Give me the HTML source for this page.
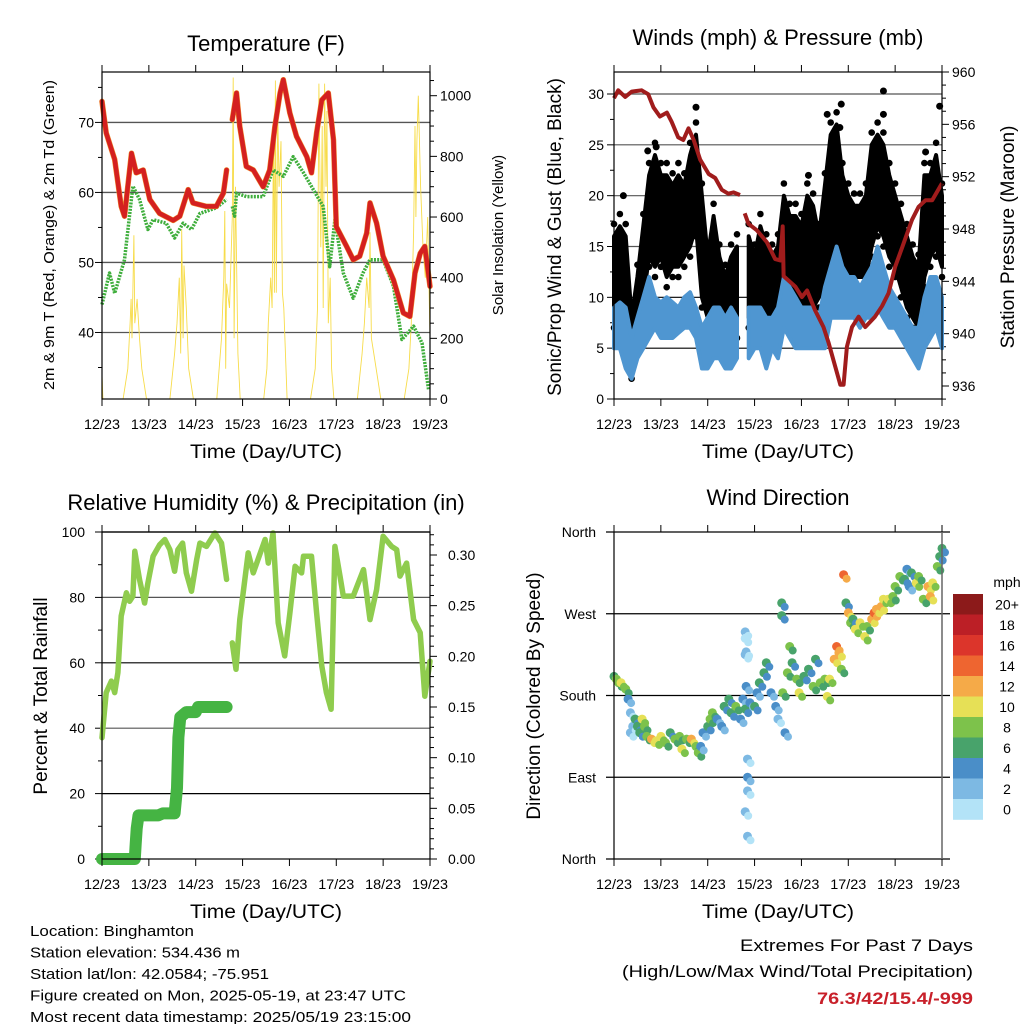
<!DOCTYPE html>
<html><head><meta charset="utf-8"><style>
html,body{margin:0;padding:0;background:#fff;}
svg{display:block;font-family:"Liberation Sans",sans-serif;}
</style></head><body>
<svg id="s" width="1024" height="1024" viewBox="0 0 1024 1024" xmlns="http://www.w3.org/2000/svg"></svg>
<script>
// ---------- DATA ----------
const dayLabels = ["12/23","13/23","14/23","15/23","16/23","17/23","18/23","19/23"];
const tempT = [[0,73],[0.09,68.5],[0.27,64.7],[0.41,58],[0.48,56.6],[0.63,65.6],[0.73,62.8],[0.88,63.2],[1.02,59],[1.23,57],[1.52,56],[1.66,56.6],[1.84,60.4],[1.94,58.5],[2.23,58],[2.44,58],[2.59,59.9],[2.66,63.2],null,[2.78,70.4],[2.87,74.2],[2.94,69.4],[3.08,63.7],[3.23,63.2],[3.44,60.8],[3.58,63.2],[3.69,69.4],[3.8,74.2],[3.87,76.1],[4.01,71.3],[4.15,68],[4.37,65.1],[4.47,62.8],[4.58,68.5],[4.69,73.2],[4.83,74.2],[4.94,67.5],[5.0,55.1],[5.22,52.3],[5.36,50.4],[5.5,50.9],[5.65,54.2],[5.72,58.5],[5.86,55.6],[6.0,50.9],[6.22,47.5],[6.43,42.8],[6.57,42.3],[6.68,48.5],[6.79,51.3],[6.89,52.3],[7.0,46.6]];
const dewT = [[0,44],[0.16,48.5],[0.27,45.6],[0.48,50.4],[0.66,60.9],[0.8,59],[0.98,54.7],[1.09,56.1],[1.37,55.6],[1.55,53.5],[1.73,55.6],[1.91,54.7],[2.09,57],[2.44,57.8],[2.66,59],null,[2.78,58],[2.83,56.6],[2.87,59.9],[3.08,59.4],[3.44,59.4],[3.65,63.2],[3.87,62.3],[4.08,65.1],[4.3,62.8],[4.51,60.4],[4.72,58],[4.86,49.4],[4.97,56.1],[5.15,48.5],[5.36,44.9],[5.57,48.5],[5.72,50.4],[6.0,50.4],[6.22,46.6],[6.4,39],[6.65,40.9],[6.83,38.5],[6.97,31.8]];
const solar = [[0,80],[0.02,0],[0.45,0],[0.55,100],[0.6,250],[0.62,330],[0.64,200],[0.68,540],[0.7,250],[0.72,280],[0.75,330],[0.8,200],[0.85,100],[0.95,0],[1.45,0],[1.55,150],[1.6,250],[1.65,400],[1.68,150],[1.7,560],[1.73,200],[1.75,440],[1.8,300],[1.85,100],[1.95,0],[2.45,0],[2.55,200],[2.6,400],[2.62,620],[2.64,100],[2.66,380],[2.72,300],[2.78,600],[2.8,1060],[2.82,200],[2.85,700],[2.88,380],[2.9,150],[2.95,0],[3.45,0],[3.52,100],[3.55,250],[3.6,400],[3.63,300],[3.66,900],[3.68,350],[3.7,1050],[3.72,350],[3.75,950],[3.78,700],[3.82,850],[3.85,350],[3.88,300],[3.95,0],[4.45,0],[4.55,100],[4.6,300],[4.63,1040],[4.67,500],[4.7,900],[4.72,300],[4.75,1040],[4.78,700],[4.8,950],[4.83,250],[4.87,400],[4.9,100],[4.95,0],[5.45,0],[5.55,150],[5.6,250],[5.65,400],[5.7,300],[5.72,550],[5.75,200],[5.8,150],[5.9,50],[5.95,0],[6.45,0],[6.55,100],[6.6,250],[6.65,550],[6.68,900],[6.7,600],[6.72,850],[6.75,1000],[6.8,700],[6.85,500],[6.9,400],[6.95,600],[7,200]];
const windTimes = [0,0.125,0.25,0.375,0.5,0.625,0.75,0.875,1,1.125,1.25,1.375,1.5,1.625,1.75,1.875,2,2.125,2.25,2.375,2.5,2.625,2.75,2.875,3,3.125,3.25,3.375,3.5,3.625,3.75,3.875,4,4.125,4.25,4.375,4.5,4.625,4.75,4.875,5,5.125,5.25,5.375,5.5,5.625,5.75,5.875,6,6.125,6.25,6.375,6.5,6.625,6.75,6.875,7];
const windLow  = [5,5,3,2,4,5,6,7,6,6,6,6.5,7,7,6,3,3,4,4,3,3,4,1,4,5,5,3,5,4,7,6,5,5,5,5,5,5,8,8,8,8,8,7,8,8,9,8,7,7,6,5,4,3,5,6,7,5];
const windHigh = [9,9.5,9,6,8,10,12,10,9.5,10,9.5,9,10,10.5,9,7,8,9,9,8,9,8,7,9,9,9,8,8,9,12,11,10,9,9,9,8,11,13,15,13,12,12,11,12,13,15,13,11,10,9,8,7,7,10,12,12,10];
const gustLow  = [8,10,5,3,6,10,14,13,14,12,13,13,14,15,17,10,8,8,7,5,5,7,8,8,7,8,7,8,6,10,10,10,9,9,9,10,11,14,15,13,12,12,12,12,15,17,16,14,13,11,9,8,7,12,14,15,13];
const gustHigh = [16,17,16,8,12,17,22,24,22,22,21,22,21,24,26,20,14,18,14,12,14,15,12,16,14,17,15,14,15,20,18,18,17,20,19,16,21,26,27,22,20,19,19,20,25,26,25,22,20,18,16,14,13,22,22,24,20];
const gustOutliers = [[0.2,20],[0.72,24.4],[0.9,24.8],[1.75,28.7],[4.55,28],[4.85,29],[4.82,26.7],[5.75,30.3],[5.75,28],[6.95,28.8],[4.15,22],[6.65,24.3]];
const pressure = [[0,958],[0.09,958.6],[0.24,958.1],[0.38,958.5],[0.59,958.6],[0.73,958.3],[0.84,957.3],[0.98,956.6],[1.13,956.9],[1.23,956.2],[1.37,955],[1.48,954.8],[1.59,955.7],[1.7,954.8],[1.84,953.3],[2.02,952.2],[2.16,951.9],[2.3,951],[2.44,950.7],[2.55,950.8],[2.69,950.6],null,[2.79,949.2],[2.87,948.4],[3.05,947.9],[3.26,947],[3.44,945.7],[3.55,945.6],[3.6,948.2],[3.62,944.4],[3.87,943.6],[4.01,942.8],[4.12,943.3],[4.29,941.8],[4.47,940.5],[4.58,939.3],[4.72,937.5],[4.83,936.1],[4.9,936.1],[4.97,939],[5.08,940.5],[5.22,941.3],[5.36,940.5],[5.57,941.3],[5.72,942.1],[5.86,943.1],[6,945.1],[6.15,946.6],[6.36,948.7],[6.5,949.7],[6.65,950.2],[6.79,950.2],[7,951.5]];
const rh = [[0,37.1],[0.09,50.9],[0.2,54.4],[0.27,50.9],[0.34,57],[0.41,74.3],[0.52,81.4],[0.59,78.8],[0.66,80.4],[0.7,94.1],[0.8,85.5],[0.91,78.3],[0.98,84.4],[1.09,92.6],[1.23,96.1],[1.34,97.7],[1.45,94.6],[1.55,88],[1.62,94.6],[1.72,96.6],[1.8,87.5],[1.91,81.9],[2.02,91.6],[2.09,96.6],[2.23,95.6],[2.41,99.7],[2.55,96.6],[2.66,85.5],null,[2.78,66.1],[2.86,58],[2.94,73.2],[3.12,93.6],[3.23,87.5],[3.33,91.6],[3.48,97.7],[3.55,90.5],[3.65,99.7],[3.76,72.2],[3.9,62.1],[4.01,75.3],[4.12,89.5],[4.26,87.5],[4.3,92.6],[4.47,92.6],[4.58,75.3],[4.69,59],[4.79,50.9],[4.89,45.8],[4.97,95.6],[5.08,86.5],[5.15,80.4],[5.36,80.4],[5.58,88.5],[5.72,73.2],[5.86,82.4],[6,98.7],[6.18,95.6],[6.29,94.6],[6.36,86.5],[6.5,90.5],[6.65,73.2],[6.79,69.2],[6.89,49.8],[7,60.5]];
const precip = [[0,0],[0.7,0],[0.72,0.015],[0.74,0.03],[0.78,0.043],[1.2,0.043],[1.3,0.045],[1.55,0.045],[1.6,0.07],[1.63,0.12],[1.67,0.14],[1.8,0.145],[2.0,0.145],[2.05,0.15],[2.66,0.15]];
const dirData = [[0,201,7],[0.05,198,8],[0.1,194,9],[0.15,194,10],[0.25,187,8],[0.3,176,4],[0.35,139,2],[0.35,161,3],[0.4,146,3],[0.45,154,6],[0.5,146,7],[0.55,139,6],[0.6,154,10],[0.65,146,8],[0.7,135,8],[0.8,132,12],[0.9,130,10],[1,135,11],[1.1,128,8],[1.2,139,7],[1.3,132,9],[1.4,135,8],[1.45,121,10],[1.55,132,8],[1.65,132,12],[1.75,124,9],[1.8,117,8],[1.85,124,4],[1.9,139,5],[2,146,7],[2.05,154,8],[2.1,161,8],[2.2,154,4],[2.3,146,4],[2.35,168,6],[2.45,176,7],[2.5,161,7],[2.6,168,8],[2.7,154,4],[2.75,176,5],[2.8,165,6],[2.9,172,5],[3,168,7],[3.05,183,4],[3.1,194,6],[3.2,205,7],[3.25,216,6],[3.35,183,4],[3.45,168,4],[3.5,154,3],[3.6,183,9],[3.65,139,5],[3.7,205,8],[3.75,234,8],[3.8,216,6],[3.9,198,8],[3.95,183,10],[4.05,201,7],[4.15,209,7],[4.25,190,9],[4.3,220,7],[4.4,194,8],[4.5,198,8],[4.55,179,10],[4.6,198,11],[4.7,220,12],[4.75,234,14],[4.8,227,12],[4.85,209,8],[4.95,282,6],[5,271,12],[5.05,260,8],[5.1,264,7],[5.15,253,10],[5.25,260,10],[5.35,245,10],[5.4,256,8],[5.5,264,12],[5.55,271,14],[5.6,275,12],[5.7,278,12],[5.75,286,10],[5.85,286,10],[5.95,289,9],[6,300,8],[6.1,311,8],[6.2,308,6],[6.25,319,4],[6.3,300,5],[6.35,315,6],[6.45,304,10],[6.5,311,8],[6.6,286,8],[6.7,300,12],[6.75,289,12],[6.8,304,10],[6.9,322,8],[6.95,333,6],[7,342,6],[2.8,250,2],[2.8,225,2],[2.82,190,4],[2.85,110,3],[2.85,75,2],[2.8,52,2],[2.85,25,2],[2.85,90,4],[2.82,228,3],[2.8,243,1],[4.9,313,14],[3.58,268,6],[3.58,282,6]];
const speedColors = ["#b3e3f7","#7db9e3","#4a8ec8","#48a36b","#7dc24b","#e6e056","#f5aa48","#ee6530","#dc352b","#bc1f26","#8c1a1a"];
const speedLabels = ["0","2","4","6","8","10","12","14","16","18","20+"];

// ---------- HELPERS ----------
const NS="http://www.w3.org/2000/svg";
const svg=document.getElementById('s');
function el(tag,attrs,parent){const e=document.createElementNS(NS,tag);for(const k in attrs)e.setAttribute(k,attrs[k]);(parent||svg).appendChild(e);return e;}
function txt(x,y,s,size,anchor,extra){const t=el('text',Object.assign({x:x,y:y,'font-size':size,'text-anchor':anchor||'middle',fill:'#000'},extra||{}));t.textContent=s;return t;}
function xScale(x0,x1){return d=>x0+(x1-x0)*d/7;}
function yScale(y0,y1,v0,v1){return v=>y0+(y1-y0)*(v-v0)/(v1-v0);}
function pathFrom(arr,xs,ys){let d='',pen=false;for(const p of arr){if(p===null){pen=false;continue;}d+=(pen?'L':'M')+xs(p[0]).toFixed(1)+' '+ys(p[1]).toFixed(1);pen=true;}return d;}
function timeAxis(g,L,R,T,B,name){
  const xs=xScale(L,R);
  for(let i=0;i<8;i++){const x=xs(i);
    el('line',{x1:x,y1:B,x2:x,y2:B+7,stroke:'#000','stroke-width':1},g);
    el('line',{x1:x,y1:T,x2:x,y2:T-7,stroke:'#000','stroke-width':1},g);
    const t=txt(x,B+30,dayLabels[i],14,'middle',{textLength:36,lengthAdjust:'spacingAndGlyphs'});g.appendChild(t);
    
  }
  const at=txt((L+R)/2,B+59,'Time (Day/UTC)',19,'middle',{textLength:152,lengthAdjust:'spacingAndGlyphs'});g.appendChild(at);
  
}
function frame(g,L,R,T,B){el('rect',{x:L,y:T,width:R-L,height:B-T,fill:'none',stroke:'#000','stroke-width':1.2},g);}

// ================= PANEL 1: TEMPERATURE =================
(function(){
 const L=102,R=430,T=72,B=399;
 const g=el('g',{});
 
 
 const xs=xScale(L,R), ys=yScale(B,T,30.5,77.2), ysol=yScale(B,95.7,0,1000);
 [40,50,60,70].forEach(v=>{el('line',{x1:L,x2:R,y1:ys(v),y2:ys(v),stroke:'#555','stroke-width':1.3},g);});
 for(let v=35;v<=75;v+=5){const major=v%10==0;el('line',{x1:L,x2:L-(major?7:4),y1:ys(v),y2:ys(v),stroke:'#000'},g);
   if(major){const t=txt(L-8,ys(v)+5,String(v),14,'end');g.appendChild(t);}}
 for(let v=0;v<=1050;v+=50){const major=v%200==0;el('line',{x1:R,x2:R+(major?7:4),y1:ysol(v),y2:ysol(v),stroke:'#000'},g);
   if(major){const t=txt(R+10,ysol(v)+5,String(v),14,'start');g.appendChild(t);}}
 const sp=el('path',{d:pathFrom(solar,xs,ysol),fill:'none',stroke:'#f7dc4a','stroke-width':0.9},g);
 
 const dp=el('path',{d:pathFrom(dewT,xs,ys),fill:'none',stroke:'#3fae3c','stroke-width':3.5,'stroke-dasharray':'2 1.2','stroke-linejoin':'round'},g);
 
 const op=el('path',{d:pathFrom(tempT,xs,ys),fill:'none',stroke:'#f08a2a','stroke-width':5.5,'stroke-linejoin':'round','stroke-linecap':'round'},g);
 
 const rp=el('path',{d:pathFrom(tempT,xs,ys),fill:'none',stroke:'#d42020','stroke-width':4.5,'stroke-linejoin':'round','stroke-linecap':'round'},g);
 
 frame(g,L,R,T,B);
 timeAxis(g,L,R,T,B,'temperature');
 const ti=txt(266,51,'Temperature (F)',22);g.appendChild(ti);
 const yl=txt(0,0,'2m & 9m T (Red, Orange) & 2m Td (Green)',15,'middle',{transform:'translate(54,235) rotate(-90)',textLength:310,lengthAdjust:'spacingAndGlyphs'});g.appendChild(yl);
 
 const yr=txt(0,0,'Solar Insolation (Yellow)',15,'middle',{transform:'translate(503,235) rotate(-90)'});g.appendChild(yr);
 
})();

// ================= PANEL 2: WINDS & PRESSURE =================
(function(){
 const L=614,R=942,T=72,B=399;
 const g=el('g',{});
 
 
 const xs=xScale(L,R), ys=yScale(B,94,0,30), yp=yScale(72,386,960,936);
 [5,10,15,20,25,30].forEach(v=>{el('line',{x1:L,x2:R,y1:ys(v),y2:ys(v),stroke:v<=10?'#000':'#555','stroke-width':1.2},g);});
 for(let v=0;v<=32;v+=2.5){const major=v%5==0;el('line',{x1:L,x2:L-(major?7:4),y1:ys(v),y2:ys(v),stroke:'#000'},g);
   if(major){const t=txt(L-10,ys(v)+5,String(v),14,'end');g.appendChild(t);}}
 for(let v=935;v<=960;v+=1){const major=v%4==0;el('line',{x1:R,x2:R+(major?7:4),y1:yp(v),y2:yp(v),stroke:'#000'},g);
   if(major){const t=txt(R+10,yp(v)+5,String(v),14,'start');g.appendChild(t);}}
 function band(lo,hi,color,name,dots){
   let segs=[],cur=[];
   windTimes.forEach((t,i)=>{ if(Math.abs(t-2.75)<1e-6){if(cur.length)segs.push(cur);cur=[];return;} cur.push(i);});
   if(cur.length)segs.push(cur);
   segs.forEach(sg=>{let d='';sg.forEach((i,k)=>{d+=(k?'L':'M')+xs(windTimes[i]).toFixed(1)+' '+ys(hi[i]).toFixed(1);});
     for(let k=sg.length-1;k>=0;k--){const i=sg[k];d+='L'+xs(windTimes[i]).toFixed(1)+' '+ys(lo[i]).toFixed(1);}d+='Z';
     const p=el('path',{d:d,fill:color,stroke:color,'stroke-width':4,'stroke-linejoin':'round'},g);
     
     if(dots){sg.forEach(i=>{[hi[i]+1.2,lo[i]-1].forEach(v=>{
       const c=el('circle',{cx:xs(windTimes[i]).toFixed(1),cy:ys(v).toFixed(1),r:3.3,fill:color},g);
       });});}
   });
 }
 band(gustLow,gustHigh,'#000','gust-band',true);
 band(windLow,windHigh,'#4f96d1','wind-speed-band',false);
 gustOutliers.forEach(p=>{const c=el('circle',{cx:xs(p[0]),cy:ys(p[1]),r:3.5,fill:'#000'},g);
   });
 const pp=el('path',{d:pathFrom(pressure,xs,yp),fill:'none',stroke:'#a01c1c','stroke-width':4,'stroke-linejoin':'round'},g);
 
 frame(g,L,R,T,B);
 timeAxis(g,L,R,T,B,'winds');
 const ti=txt(778,45,'Winds (mph) & Pressure (mb)',22);g.appendChild(ti);
 const yl=txt(0,0,'Sonic/Prop Wind & Gust (Blue, Black)',19,'middle',{transform:'translate(561,237) rotate(-90)'});g.appendChild(yl);
 
 const yr=txt(0,0,'Station Pressure (Maroon)',19,'middle',{transform:'translate(1014,237) rotate(-90)'});g.appendChild(yr);
 
})();

// ================= PANEL 3: RH & PRECIP =================
(function(){
 const L=102,R=430,T=532,B=859;
 const g=el('g',{});
 
 
 const xs=xScale(L,R), ys=yScale(B,T,0,100), yp=yScale(B,555,0,0.30);
 [20,40,60,80,100].forEach(v=>{el('line',{x1:L,x2:R,y1:ys(v),y2:ys(v),stroke:(v==40||v==80)?'#555':'#000','stroke-width':1.2},g);});
 for(let v=0;v<=100;v+=10){const major=v%20==0;el('line',{x1:L,x2:L-(major?7:4),y1:ys(v),y2:ys(v),stroke:'#000'},g);
   if(major){const t=txt(L-17,ys(v)+5,String(v),14,'end');g.appendChild(t);}}
 for(let i=0;i<=32;i++){const v=i/100;const major=i%5==0;el('line',{x1:R,x2:R+(major?7:4),y1:yp(v),y2:yp(v),stroke:'#000'},g);
   if(major){const t=txt(R+18,yp(v)+5,v.toFixed(2),14,'start');g.appendChild(t);}}
 const rp=el('path',{d:pathFrom(rh,xs,ys),fill:'none',stroke:'#8fcc4e','stroke-width':5.5,'stroke-linejoin':'round','stroke-linecap':'round'},g);
 
 const pr=el('path',{d:pathFrom(precip,xs,yp),fill:'none',stroke:'#45b443','stroke-width':12,'stroke-linejoin':'round','stroke-linecap':'round'},g);
 
 frame(g,L,R,T,B);
 timeAxis(g,L,R,T,B,'humidity');
 const ti=txt(266,510,'Relative Humidity (%) & Precipitation (in)',22);g.appendChild(ti);
 const yl=txt(0,0,'Percent & Total Rainfall',19,'middle',{transform:'translate(47,696) rotate(-90)'});g.appendChild(yl);
 
})();

// ================= PANEL 4: WIND DIRECTION =================
(function(){
 const L=614,R=942,T=532,B=859;
 const g=el('g',{});
 
 
 const xs=xScale(L,R), ys=yScale(B,T,0,360);
 const dirNames=["North","East","South","West","North"];
 [0,90,180,270,360].forEach((v,i)=>{el('line',{x1:L-8,x2:R+8,y1:ys(v),y2:ys(v),stroke:'#000','stroke-width':1.2},g);
   const t=txt(L-18,ys(v)+5,dirNames[i],14,'end');g.appendChild(t);});
 dirData.forEach(p=>{const idx=Math.min(10,Math.floor(p[2]/2));
   const c=el('circle',{cx:xs(p[0]).toFixed(1),cy:ys(p[1]).toFixed(1),r:4.5,fill:speedColors[idx]},g);
   
   const c2=el('circle',{cx:(xs(p[0])+3).toFixed(1),cy:(ys(p[1])+4).toFixed(1),r:4,fill:speedColors[Math.max(0,idx-1)]},g);
   
 });
 el('line',{x1:L,y1:T,x2:L,y2:B,stroke:'#000','stroke-width':1.2},g);
 el('line',{x1:R,y1:T,x2:R,y2:B,stroke:'#666','stroke-width':1.5},g);
 timeAxis(g,L,R,T,B,'direction');
 const ti=txt(778,505,'Wind Direction',22);g.appendChild(ti);
 const yl=txt(0,0,'Direction (Colored By Speed)',19,'middle',{transform:'translate(540,696) rotate(-90)'});g.appendChild(yl);
 
 const lg=el('g',{},g);
 
 const lt=txt(1007,587,'mph',14);lg.appendChild(lt);
 const boxH=20.5, top=594;
 for(let k=0;k<11;k++){const i=10-k;
   const r=el('rect',{x:953,y:top+k*boxH,width:30,height:boxH+0.3,fill:speedColors[i]},lg);
   
   const t=txt(1007,top+k*boxH+boxH/2+5,speedLabels[i],14);lg.appendChild(t);
   }
})();

// ================= FOOTER TEXT =================
const info=["Location: Binghamton","Station elevation: 534.436 m","Station lat/lon: 42.0584; -75.951","Figure created on Mon, 2025-05-19, at 23:47 UTC","Most recent data timestamp: 2025/05/19 23:15:00"];
const infoW=[164,210,239,376,381];
info.forEach((s,i)=>{const t=txt(30,936+i*21.5,s,15,'start',{textLength:infoW[i],lengthAdjust:'spacingAndGlyphs'});
  });
const e1=txt(973,951,'Extremes For Past 7 Days',17,'end',{textLength:233,lengthAdjust:'spacingAndGlyphs'});

const e2=txt(973,977,'(High/Low/Max Wind/Total Precipitation)',17,'end',{textLength:351,lengthAdjust:'spacingAndGlyphs'});

const e3=txt(973,1004,'76.3/42/15.4/-999',17,'end',{fill:'#c8202a','font-weight':'bold',textLength:156,lengthAdjust:'spacingAndGlyphs'});

</script>
</body></html>
